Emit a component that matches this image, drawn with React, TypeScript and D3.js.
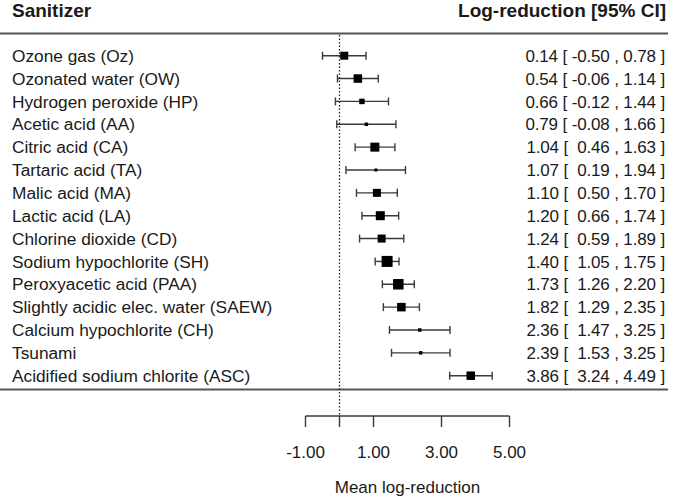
import React from "react";
import * as d3 from "d3";

const sanitizers = [
  "Ozone gas (Oz)",
  "Ozonated water (OW)",
  "Hydrogen peroxide (HP)",
  "Acetic acid (AA)",
  "Citric acid (CA)",
  "Tartaric acid (TA)",
  "Malic acid (MA)",
  "Lactic acid (LA)",
  "Chlorine dioxide (CD)",
  "Sodium hypochlorite (SH)",
  "Peroxyacetic acid (PAA)",
  "Slightly acidic elec. water (SAEW)",
  "Calcium hypochlorite (CH)",
  "Tsunami",
  "Acidified sodium chlorite (ASC)",
];
const estimates = [0.14, 0.54, 0.66, 0.79, 1.04, 1.07, 1.1, 1.2, 1.24, 1.4, 1.73, 1.82, 2.36, 2.39, 3.86];
const lowers = [-0.5, -0.06, -0.12, -0.08, 0.46, 0.19, 0.5, 0.66, 0.59, 1.05, 1.26, 1.29, 1.47, 1.53, 3.24];
const uppers = [0.78, 1.14, 1.44, 1.66, 1.63, 1.94, 1.7, 1.74, 1.89, 1.75, 2.2, 2.35, 3.25, 3.25, 4.49];
// relative weights (box area)
const weights = [53, 60, 25, 10, 67, 7.5, 53, 67, 53, 100, 91, 60, 10, 10, 60];
const tickValues = [-1, 0, 1, 3, 5];
const tickLabelValues = [-1, 1, 3, 5];

const FONT = "'Liberation Sans', Arial, Helvetica, sans-serif";
const fmt = (v: number) => v.toFixed(2);

function ciLabel(i: number) {
  const lo = lowers[i] < 0 ? fmt(lowers[i]) : "\u00a0" + fmt(lowers[i]);
  return `${fmt(estimates[i])} [ ${lo} , ${fmt(uppers[i])} ]`;
}

export default function App() {
  const W = 680;
  const H = 501;
  const x = d3.scaleLinear().domain([0, 5]).range([339.5, 509.5]);
  const y = d3.scaleLinear().domain([0, sanitizers.length - 1]).range([55.7, 375.7]);
  const box = d3.scaleSqrt().domain([0, 100]).range([0, 11]);
  const lineColor = "#3a3a3a";
  const textColor = "#1a1a1a";
  const axisY = 416;

  return (
    <svg
      width={W}
      height={H}
      style={{ position: "absolute", left: 0, top: 0, background: "#fff" }}
      fontFamily={FONT}
    >
      <rect width={W} height={H} fill="#fff" />
      {/* headers */}
      <text x={12} y={17} fontSize={19} fontWeight="bold" fill={textColor}>
        Sanitizer
      </text>
      <text x={666} y={17} fontSize={19} fontWeight="bold" fill={textColor} textAnchor="end">
        Log-reduction [95% CI]
      </text>
      {/* rules */}
      <line x1={0} x2={668} y1={33.5} y2={33.5} stroke="#555" strokeWidth={2.2} />
      <line x1={0} x2={668} y1={389.5} y2={389.5} stroke="#555" strokeWidth={2.2} />
      {/* reference line */}
      <line
        x1={x(0)}
        x2={x(0)}
        y1={35}
        y2={axisY}
        stroke="#222"
        strokeWidth={1.3}
        strokeDasharray="1.5 2"
      />
      {/* rows */}
      {sanitizers.map((name, i) => {
        const cy = y(i);
        const s = box(weights[i]);
        return (
          <g key={name}>
            <text x={12} y={cy} dy="0.36em" fontSize={17.3} fill={textColor}>
              {name}
            </text>
            <line x1={x(lowers[i])} x2={x(uppers[i])} y1={cy} y2={cy} stroke={lineColor} strokeWidth={1.4} />
            <line x1={x(lowers[i])} x2={x(lowers[i])} y1={cy - 4} y2={cy + 4} stroke={lineColor} strokeWidth={1.4} />
            <line x1={x(uppers[i])} x2={x(uppers[i])} y1={cy - 4} y2={cy + 4} stroke={lineColor} strokeWidth={1.4} />
            <rect x={x(estimates[i]) - s / 2} y={cy - s / 2} width={s} height={s} fill="#000" />
            <text
              x={665}
              y={cy}
              dy="0.36em"
              fontSize={17}
              letterSpacing={-0.15}
              fill={textColor}
              textAnchor="end"
              style={{ whiteSpace: "pre" }}
              xmlSpace="preserve"
            >
              {ciLabel(i)}
            </text>
          </g>
        );
      })}
      {/* axis */}
      <line x1={x(-1)} x2={x(5)} y1={axisY} y2={axisY} stroke={lineColor} strokeWidth={1.4} />
      {tickValues.map((t) => (
        <line key={t} x1={x(t)} x2={x(t)} y1={axisY} y2={axisY + 11} stroke={lineColor} strokeWidth={1.4} />
      ))}
      {tickLabelValues.map((t) => (
        <text key={t} x={x(t)} y={458} fontSize={17} fill={textColor} textAnchor="middle">
          {fmt(t)}
        </text>
      ))}
      <text x={x(2)} y={493} fontSize={17} fill={textColor} textAnchor="middle">
        Mean log-reduction
      </text>
    </svg>
  );
}
